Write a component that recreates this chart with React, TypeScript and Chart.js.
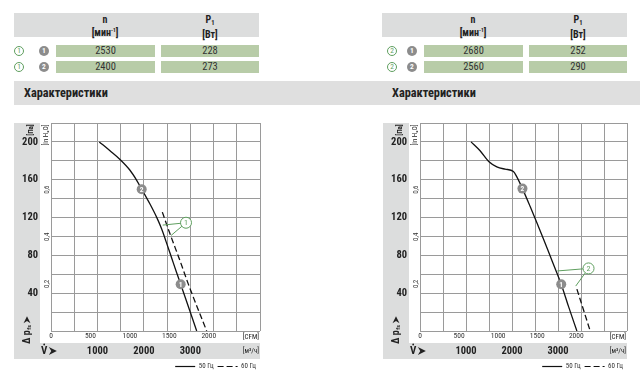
import React, { useEffect, useRef } from "react";
import { Chart, registerables } from "chart.js";
Chart.register(...registerables);

function pickNarrowFont(): string {
  const cands = [
    "Liberation Sans Narrow",
    "Arial Narrow",
    "Noto Sans ExtraCondensed",
    "Noto Sans Condensed",
    "Roboto Condensed",
    "Open Sans Condensed",
    "Noto Sans SemiCondensed",
    "DejaVu Sans Condensed",
  ];
  try {
    const c = document.createElement("canvas").getContext("2d") as CanvasRenderingContext2D;
    const test = "Характеристики 2530 mmwwii";
    for (const f of cands) {
      let found = false;
      for (const base of ["monospace", "serif"]) {
        c.font = `bold 20px ${base}`;
        const w0 = c.measureText(test).width;
        c.font = `bold 20px '${f}', ${base}`;
        const w1 = c.measureText(test).width;
        if (Math.abs(w0 - w1) > 0.5) found = true;
      }
      if (found) return f;
    }
  } catch (e) {
    /* ignore */
  }
  return "DejaVu Sans Condensed";
}

const FAMILY = pickNarrowFont();
const FONT = `'${FAMILY}', 'DejaVu Sans Condensed', sans-serif`;
const BAND = "#dcdddd";
const GRID = "#9a9a9a";
const GREEN = "#5f9f5f";
const CELL = "#b8cca8";
const MARK = "#8c8c8c";

// ---- table data ----
const pointLabels = ["1", "2"];
const leftGroup = "1";
const rightGroup = "2";
const leftSpeed = ["2530", "2400"];
const leftPower = ["228", "273"];
const rightSpeed = ["2680", "2560"];
const rightPower = ["252", "290"];

// ---- axes ----
const M3H_MAX = 4500;
const PA_MAX = 220;
const CFM_FACTOR = 1.699; // m³/h per CFM
const PA_PER_INH2O = 249.09;
const m3hGrid = [0, 500, 1000, 1500, 2000, 2500, 3000, 3500, 4000, 4500];
const paGrid = [0, 20, 40, 60, 80, 100, 120, 140, 160, 180, 200, 220];
const paTicks = [40, 80, 120, 160, 200];
const inTicks = [0.2, 0.4, 0.6];
const cfmTicks = [0, 500, 1000, 1500, 2000];
const m3hTicks = [1000, 2000, 3000];

// ---- curves (m³/h, Pa) ----
const leftSolidFlow = [1040, 1270, 1486, 1701, 1845, 1953, 2131, 2276, 2383, 2480, 2600, 2700, 2792, 2885, 3137];
const leftSolidPa = [200, 190.6, 181.4, 170, 159.4, 150, 134.3, 120.2, 107.9, 94.3, 76.9, 62.4, 49.5, 36.3, 0];
const leftDashFlow = [2397, 2562, 2777, 2957, 3352];
const leftDashPa = [125.7, 102.8, 74.4, 49.6, 0];

const rightSolidFlow = [1110, 1306, 1500, 1670, 1850, 2031, 2105, 2227, 2395, 2541, 2684, 2830, 2976, 3070, 3228, 3411];
const rightSolidPa = [200, 190.6, 179, 173.6, 171.2, 168.8, 163, 150.6, 131.6, 114.5, 97.3, 79.3, 61.3, 49.5, 26, 0];
const rightDashFlow = [3411, 3700];
const rightDashPa = [44.3, 0];

// ---- operating point markers (labels 1, 2) ----
const leftMarkerFlow = [2792, 1953];
const leftMarkerPa = [49.5, 150];
const rightMarkerFlow = [3070, 2227];
const rightMarkerPa = [49.5, 150.6];

// ---- callouts: first = circle, rest = leader ends ----
const leftCalloutFlow = [2907, 2405, 2585];
const leftCalloutPa = [114.5, 112, 101];
const rightCalloutFlow = [3664, 2985, 3385];
const rightCalloutPa = [66.2, 63.5, 47.5];

const legendLabels = ["50 Гц", "60 Гц"];

function drawArrow(ctx: CanvasRenderingContext2D, x0: number, y0: number, s: number) {
  ctx.beginPath();
  ctx.moveTo(x0, y0 - s / 2);
  ctx.lineTo(x0 + s, y0);
  ctx.lineTo(x0, y0 + s / 2);
  ctx.lineTo(x0 + s * 0.3, y0);
  ctx.closePath();
  ctx.fill();
}

function rotText(ctx: CanvasRenderingContext2D, t: string, x: number, y: number, font: string) {
  ctx.save();
  ctx.translate(x, y);
  ctx.rotate(-Math.PI / 2);
  ctx.font = font;
  ctx.textAlign = "center";
  ctx.textBaseline = "middle";
  ctx.fillText(t, 0, 0);
  ctx.restore();
}

const decorPlugin = {
  id: "decor",
  beforeDraw(chart: any) {
    const { ctx, chartArea: ca, scales } = chart;
    const y = scales.y, x = scales.x;
    ctx.save();
    ctx.fillStyle = BAND;
    ctx.fillRect(y.left, ca.top, y.right - y.left, x.bottom - ca.top);
    ctx.fillRect(y.left, x.top, ca.right - y.left, x.bottom - x.top);
    ctx.restore();
  },
  afterDatasetsDraw(chart: any, _a: any, opts: any) {
    const { ctx, scales } = chart;
    const x = scales.x, y = scales.y;
    ctx.save();
    const cf = opts.calloutFlow, cp = opts.calloutPa;
    const cx = x.getPixelForValue(cf[0]), cy = y.getPixelForValue(cp[0]);
    ctx.strokeStyle = GREEN;
    ctx.lineWidth = 1;
    for (let i = 1; i < cf.length; i++) {
      ctx.beginPath();
      ctx.moveTo(cx, cy);
      ctx.lineTo(x.getPixelForValue(cf[i]), y.getPixelForValue(cp[i]));
      ctx.stroke();
    }
    ctx.beginPath();
    ctx.arc(cx, cy, 5.5, 0, Math.PI * 2);
    ctx.fillStyle = "#fff";
    ctx.fill();
    ctx.stroke();
    ctx.fillStyle = GREEN;
    ctx.font = `8px ${FONT}`;
    ctx.textAlign = "center";
    ctx.textBaseline = "middle";
    ctx.fillText(opts.calloutLabel, cx, cy + 0.5);
    const mf = opts.markerFlow, mp = opts.markerPa;
    for (let i = 0; i < mf.length; i++) {
      const px = x.getPixelForValue(mf[i]), py = y.getPixelForValue(mp[i]);
      ctx.beginPath();
      ctx.arc(px, py, 5, 0, Math.PI * 2);
      ctx.fillStyle = MARK;
      ctx.fill();
      ctx.fillStyle = "#fff";
      ctx.font = `bold 7.5px ${FONT}`;
      ctx.fillText(pointLabels[i], px, py + 0.5);
    }
    ctx.restore();
  },
  afterDraw(chart: any) {
    const { ctx, chartArea: ca, scales } = chart;
    const y = scales.y, yin = scales.yin, x = scales.x, xc = scales.xcfm;
    ctx.save();
    ctx.fillStyle = "#222";
    rotText(ctx, "[Па]", y.left + 17, ca.top + 7, `bold 7px ${FONT}`);
    rotText(ctx, "[in H₂O]", yin.left + 6.5, ca.top + 12, `7px ${FONT}`);
    ctx.save();
    ctx.translate(y.left + 13, x.top + 1);
    ctx.rotate(-Math.PI / 2);
    ctx.font = `bold 10px ${FONT}`;
    ctx.textAlign = "left";
    ctx.textBaseline = "middle";
    ctx.fillText("Δ p", 0, 0);
    let w = ctx.measureText("Δ p").width;
    ctx.font = `bold 6px ${FONT}`;
    ctx.fillText("fs", w + 0.5, 2.5);
    w += ctx.measureText("fs").width + 2.5;
    drawArrow(ctx, w, 0, 7);
    ctx.restore();
    const vy = (x.top + x.bottom) / 2;
    ctx.font = `bold 11px ${FONT}`;
    ctx.textAlign = "left";
    ctx.textBaseline = "middle";
    const vx = y.left + 27;
    ctx.fillText("V", vx, vy);
    const vw = ctx.measureText("V").width;
    ctx.beginPath();
    ctx.arc(vx + vw / 2, vy - 6.5, 0.9, 0, Math.PI * 2);
    ctx.fill();
    drawArrow(ctx, vx + vw + 1.5, vy, 8);
    ctx.font = `7px ${FONT}`;
    ctx.textAlign = "right";
    ctx.fillText("[CFM]", ca.right - 1, (xc.top + xc.bottom) / 2 + 0.5);
    ctx.fillText("[м³/ч]", ca.right - 1, vy);
    ctx.restore();
  },
};

function makeConfig(
  solidFlow: number[], solidPa: number[], dashFlow: number[], dashPa: number[],
  markerFlow: number[], markerPa: number[],
  calloutFlow: number[], calloutPa: number[], calloutLabel: string, padRight: number
): any {
  const fixW = (w: number) => (s: any) => { s.width = w; s.paddingTop = 0; s.paddingBottom = 0; };
  const fixH = (h: number) => (s: any) => { s.height = h; s.paddingLeft = 0; s.paddingRight = 0; };
  const setTicks = (vals: number[]) => (s: any) => { s.ticks = vals.map((v) => ({ value: v })); };
  const has = (arr: number[], v: number) => arr.some((t) => Math.abs(t - v) < 1e-6);
  return {
    type: "line",
    data: {
      datasets: [
        {
          label: legendLabels[0],
          data: solidFlow.map((f, i) => ({ x: f, y: solidPa[i] })),
          borderColor: "#111",
          borderWidth: 1.3,
          pointRadius: 0,
          cubicInterpolationMode: "monotone",
          fill: false,
        },
        {
          label: legendLabels[1],
          data: dashFlow.map((f, i) => ({ x: f, y: dashPa[i] })),
          borderColor: "#111",
          borderWidth: 1.3,
          borderDash: [6, 3],
          pointRadius: 0,
          cubicInterpolationMode: "monotone",
          fill: false,
        },
      ],
    },
    options: {
      responsive: false,
      animation: false,
      layout: { padding: { left: 0, top: 8, right: padRight, bottom: 0 } },
      scales: {
        x: {
          type: "linear", position: "bottom", weight: 2, min: 0, max: M3H_MAX,
          grid: { color: GRID, lineWidth: 1, drawTicks: false },
          border: { display: false },
          afterBuildTicks: setTicks(m3hGrid),
          ticks: {
            padding: 2, autoSkip: false, maxRotation: 0, minRotation: 0,
            font: { family: FONT, size: 10.5, weight: "bold" }, color: "#222",
            callback: (v: number) => (has(m3hTicks, v) ? String(v) : ""),
          },
          afterFit: fixH(16),
        },
        xcfm: {
          type: "linear", position: "bottom", weight: 1, min: 0, max: M3H_MAX / CFM_FACTOR,
          grid: { display: false, drawTicks: false },
          border: { display: false },
          afterBuildTicks: setTicks(cfmTicks),
          ticks: {
            padding: 1, autoSkip: false, maxRotation: 0, minRotation: 0,
            font: { family: FONT, size: 7.5 }, color: "#333",
            callback: (v: number) => String(v),
          },
          afterFit: fixH(12),
        },
        y: {
          type: "linear", position: "left", weight: 2, min: 0, max: PA_MAX,
          grid: { color: GRID, lineWidth: 1, drawTicks: false },
          border: { display: false },
          afterBuildTicks: setTicks(paGrid),
          ticks: {
            padding: 2, autoSkip: false,
            font: { family: FONT, size: 10.5, weight: "bold" }, color: "#222",
            callback: (v: number) => (has(paTicks, v) ? String(v) : ""),
          },
          afterFit: fixW(26),
        },
        yin: {
          type: "linear", position: "left", weight: 1, min: 0, max: PA_MAX / PA_PER_INH2O,
          grid: { display: false, drawTicks: false },
          border: { display: false },
          afterBuildTicks: setTicks(inTicks),
          ticks: {
            padding: 0, autoSkip: false, minRotation: 90, maxRotation: 90,
            crossAlign: "center",
            font: { family: FONT, size: 7 }, color: "#333",
            callback: (v: number) => String(v).replace(".", ","),
          },
          afterFit: fixW(11),
        },
      },
      plugins: {
        legend: {
          display: true, position: "bottom", align: "end",
          labels: {
            usePointStyle: true, pointStyle: "line", pointStyleWidth: 20, boxHeight: 7,
            padding: 4, font: { family: FONT, size: 7 }, color: "#333",
            generateLabels: (chart: any) =>
              Chart.defaults.plugins.legend.labels.generateLabels(chart).map((l: any, i: number) => ({
                ...l,
                pointStyle: "line",
                lineWidth: 1.2,
                strokeStyle: "#111",
                lineDash: chart.data.datasets[i].borderDash || [],
              })),
          },
        },
        tooltip: { enabled: false },
        decor: { markerFlow, markerPa, calloutFlow, calloutPa, calloutLabel },
      },
    },
    plugins: [decorPlugin],
  };
}

function Circ({ x, y, label, green }: { x: number; y: number; label: string; green: boolean }) {
  return (
    <div
      style={{
        position: "absolute", left: x - 5, top: y - 5, width: 10, height: 10, boxSizing: "border-box",
        borderRadius: "50%", border: green ? `1px solid ${GREEN}` : "none",
        background: green ? "#fff" : MARK, color: green ? GREEN : "#fff",
        fontSize: 7.5, fontWeight: green ? "normal" : "bold",
        lineHeight: green ? "8px" : "10px", textAlign: "center",
      }}
    >
      {label}
    </div>
  );
}

function Table({ left, greenX, grayX, group, speed, power }: any) {
  const rowY = [45, 61];
  const head: React.CSSProperties = {
    position: "absolute", top: 13, width: 100, textAlign: "center", fontWeight: "bold",
    fontSize: 10, lineHeight: "11px", color: "#222", paddingTop: 1,
  };
  const cell: React.CSSProperties = {
    position: "absolute", height: 12, background: CELL, textAlign: "center",
    fontSize: 10.5, lineHeight: "12px", color: "#333",
  };
  return (
    <>
      <div style={{ position: "absolute", left, top: 13, width: 245, height: 24, background: "#dcdddd" }} />
      <div style={{ ...head, left: left + 41 }}>
        n<br />[мин<sup style={{ fontSize: 5.5, verticalAlign: "4px" }}>-1</sup>]
      </div>
      <div style={{ ...head, left: left + 146 }}>
        P<sub style={{ fontSize: 6.5, verticalAlign: "-2px" }}>1</sub><br />[Вт]
      </div>
      {rowY.map((ry, i) => (
        <React.Fragment key={i}>
          <Circ x={greenX} y={ry + 6} label={group} green={true} />
          <Circ x={grayX} y={ry + 6} label={pointLabels[i]} green={false} />
          <div style={{ ...cell, left: left + 42, top: ry, width: 99 }}>{speed[i]}</div>
          <div style={{ ...cell, left: left + 147, top: ry, width: 98 }}>{power[i]}</div>
        </React.Fragment>
      ))}
    </>
  );
}

export default function App() {
  const leftRef = useRef<HTMLCanvasElement>(null);
  const rightRef = useRef<HTMLCanvasElement>(null);
  useEffect(() => {
    const c1 = new Chart(
      leftRef.current as HTMLCanvasElement,
      makeConfig(leftSolidFlow, leftSolidPa, leftDashFlow, leftDashPa, leftMarkerFlow, leftMarkerPa, leftCalloutFlow, leftCalloutPa, leftGroup, 4)
    );
    const c2 = new Chart(
      rightRef.current as HTMLCanvasElement,
      makeConfig(rightSolidFlow, rightSolidPa, rightDashFlow, rightDashPa, rightMarkerFlow, rightMarkerPa, rightCalloutFlow, rightCalloutPa, rightGroup, 6)
    );
    return () => {
      c1.destroy();
      c2.destroy();
    };
  }, []);
  const title: React.CSSProperties = {
    position: "absolute", top: 81, height: 24, lineHeight: "24px", fontWeight: "bold",
    fontSize: 12.3, color: "#222", whiteSpace: "nowrap",
  };
  return (
    <div style={{ position: "absolute", left: 0, top: 0, width: 640, height: 380, background: "#fff", overflow: "hidden", fontFamily: FONT }}>
      <Table left={14} greenX={19} grayX={44} group={leftGroup} speed={leftSpeed} power={leftPower} />
      <Table left={382} greenX={392} grayX={412} group={rightGroup} speed={rightSpeed} power={rightPower} />
      <div style={{ position: "absolute", left: 14, top: 81, width: 626, height: 24, background: "#dfdfdf" }} />
      <div style={{ ...title, left: 24 }}>Характеристики</div>
      <div style={{ ...title, left: 392 }}>Характеристики</div>
      <canvas ref={leftRef} width={250} height={265} style={{ position: "absolute", left: 14, top: 115, width: 250, height: 265 }} />
      <canvas ref={rightRef} width={250} height={265} style={{ position: "absolute", left: 383, top: 115, width: 250, height: 265 }} />
    </div>
  );
}
